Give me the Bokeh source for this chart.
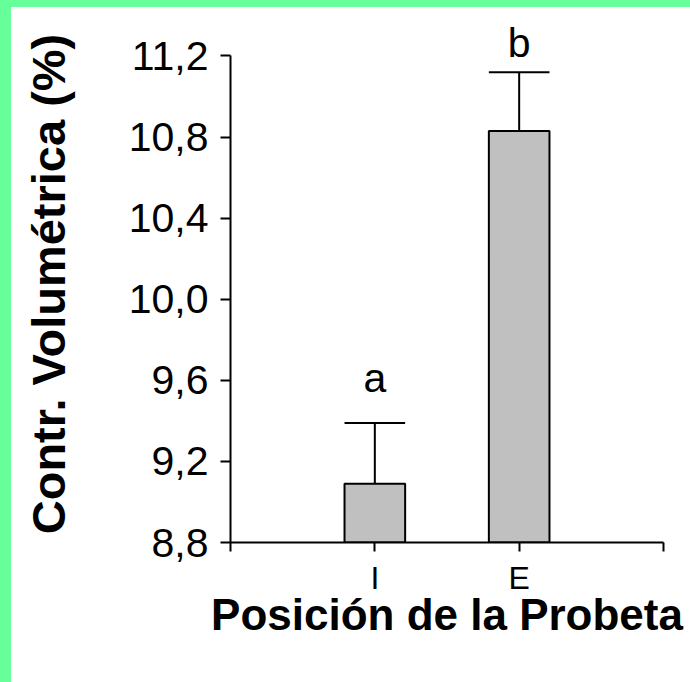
from bokeh.plotting import figure
from bokeh.models import FixedTicker, CustomJSTickFormatter, ColumnDataSource, Range1d
from bokeh.core.properties import value
from bokeh.embed import file_html
from bokeh.resources import INLINE

# ---- data ----
categories = ["I", "E"]
means = [9.09, 10.83]
errors = [0.30, 0.29]
letters = ["a", "b"]
y_ticks = [8.8, 9.2, 9.6, 10.0, 10.4, 10.8, 11.2]
y_label = "Contr. Volumétrica (%)"
x_label = "Posición de la Probeta"

# ---- layout / style ----
FONT = "Liberation Sans"
base = 8.8
bar_w = 0.42
letter_pad = [0.22, 0.145]

pos = [i + 1 for i in range(len(categories))]
tops = [m + e for m, e in zip(means, errors)]

src = ColumnDataSource(dict(
    x=pos, top=means, bottom=[base] * len(pos), etop=tops,
    cl=[x - bar_w / 2 for x in pos], cr=[x + bar_w / 2 for x in pos],
    ly=[t + d for t, d in zip(tops, letter_pad)], letter=letters,
))

p = figure(width=679, height=675, output_backend="svg", toolbar_location=None,
           x_range=Range1d(0, len(categories) + 1), y_range=Range1d(base, 11.35),
           min_border_left=219, min_border_right=27, min_border_top=18, min_border_bottom=140)
p.outline_line_color = None
p.grid.visible = False
p.background_fill_color = "white"
p.border_fill_color = "white"

p.vbar(x="x", top="top", bottom="bottom", width=bar_w, source=src,
       fill_color="#C0C0C0", line_color="black", line_width=2)
p.segment(x0="x", y0="top", x1="x", y1="etop", source=src, line_color="black", line_width=2)
p.segment(x0="cl", y0="etop", x1="cr", y1="etop", source=src, line_color="black", line_width=2)
p.text(x="x", y="ly", text="letter", source=src, text_align="center", text_baseline="alphabetic",
       text_font=value(FONT), text_font_size="41px", text_color="black")

# y axis
ya = p.yaxis[0]
ya.ticker = FixedTicker(ticks=y_ticks)
ya.formatter = CustomJSTickFormatter(code="return tick.toFixed(1).replace('.', ',');")
ya.bounds = (y_ticks[0], y_ticks[-1])
ya.minor_tick_line_color = None
ya.major_tick_in = 0
ya.major_tick_out = 10
ya.major_tick_line_width = 2
ya.axis_line_width = 2
ya.major_label_standoff = 12
ya.major_label_text_font = FONT
ya.major_label_text_font_size = "41px"
ya.major_label_text_color = "black"
ya.axis_label = y_label
ya.axis_label_text_font = FONT
ya.axis_label_text_font_size = "47px"
ya.axis_label_text_font_style = "bold"
ya.axis_label_text_color = "black"
ya.axis_label_standoff = 51

# x axis
xa = p.xaxis[0]
xa.ticker = FixedTicker(ticks=list(range(len(categories) + 2)))
overrides = {0: "", len(categories) + 1: ""}
for x, c in zip(pos, categories):
    overrides[x] = c
xa.major_label_overrides = overrides
xa.minor_tick_line_color = None
xa.major_tick_in = 0
xa.major_tick_out = 9
xa.major_tick_line_width = 2
xa.axis_line_width = 2
xa.major_label_standoff = 8
xa.major_label_text_font = FONT
xa.major_label_text_font_size = "32px"
xa.major_label_text_color = "black"
xa.axis_label = x_label
xa.axis_label_text_font = FONT
xa.axis_label_text_font_size = "44px"
xa.axis_label_text_font_style = "bold"
xa.axis_label_text_color = "black"
xa.axis_label_standoff = -9

html = file_html(p, INLINE)
style = ("<style>html,body{background:#ffffff !important;}"
         "body{margin:0 !important;border-top:7px solid #66FF99;"
         "border-left:11px solid #66FF99;}</style>")
html = html.replace("</head>", style + "</head>", 1)
open("out.html", "w").write(html)
